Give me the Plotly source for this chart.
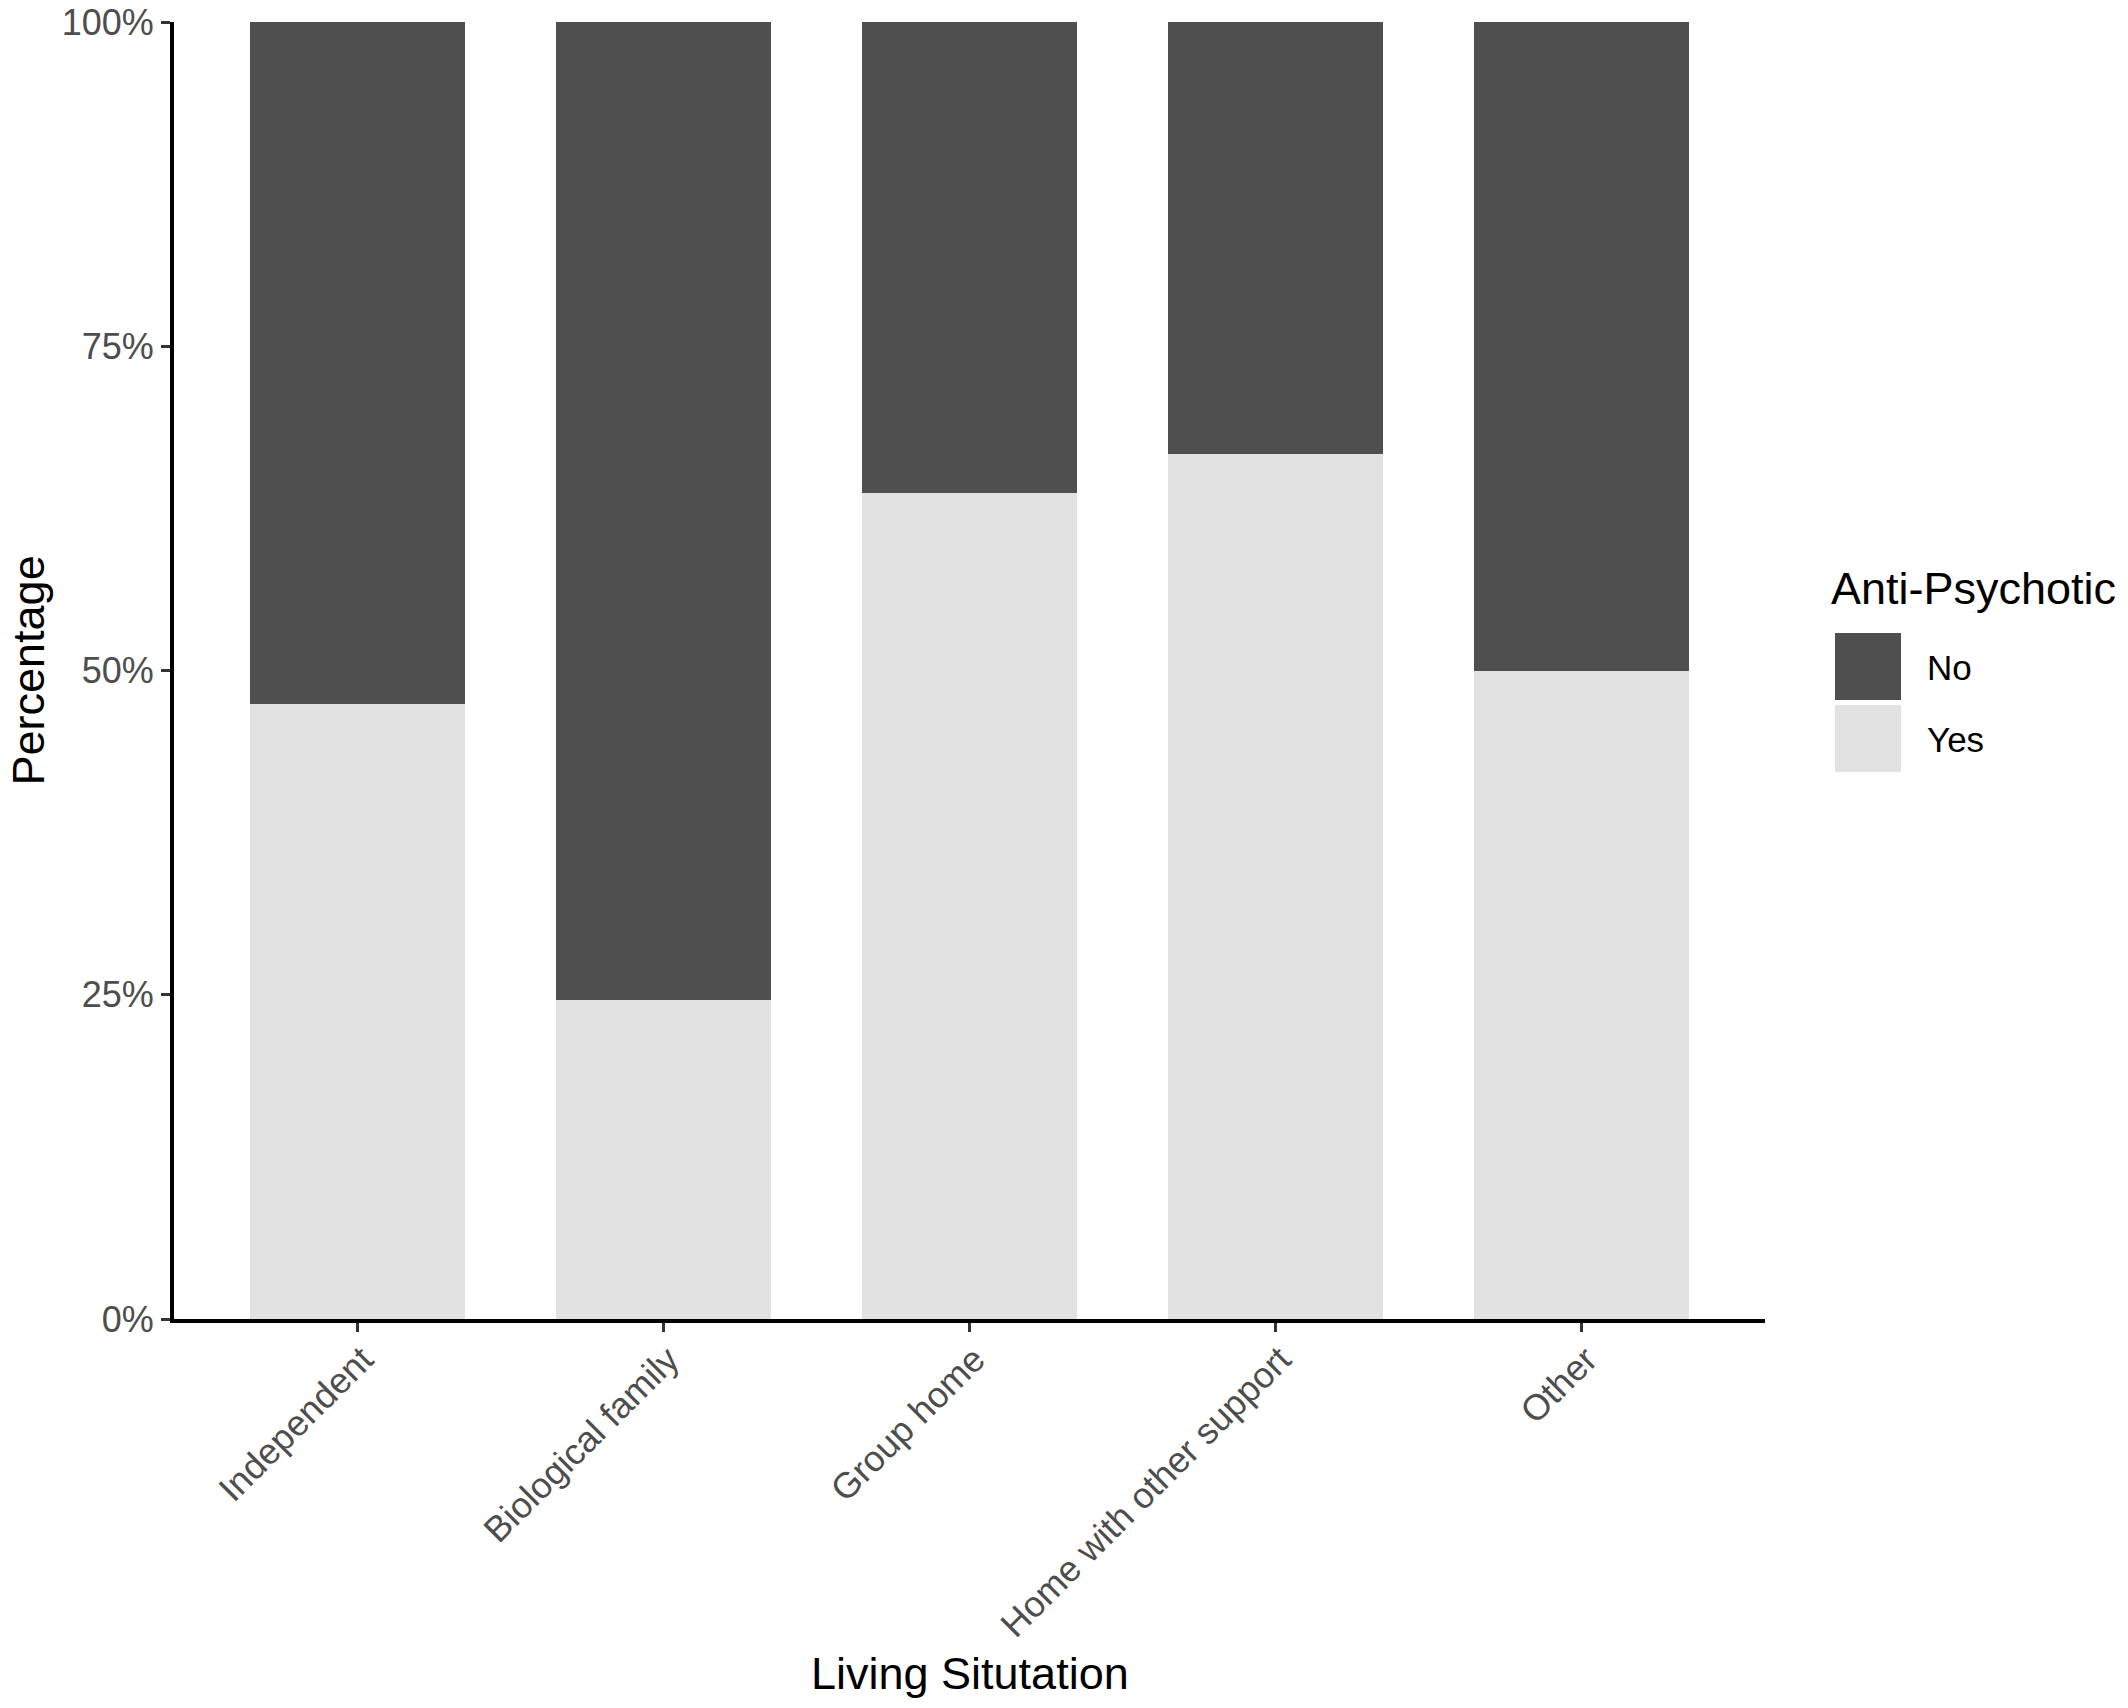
import plotly.graph_objects as go

categories = ["Independent", "Biological family", "Group home", "Home with other support", "Other"]
yes_share = [0.474, 0.246, 0.637, 0.667, 0.500]
no_share = [1 - v for v in yes_share]
y_ticks = [0, 0.25, 0.5, 0.75, 1.0]
y_tick_labels = ["0%", "25%", "50%", "75%", "100%"]
legend_title = "Anti-Psychotic"
legend_labels = ["No", "Yes"]

COL_NO = "#4F4F4F"
COL_YES = "#E2E2E2"
FONT = "Liberation Sans, Arial, sans-serif"

W, H = 2128, 1708          # page (viewport) size
L, R, T, B = 174, 1765, 22, 1319   # plot area in page pixels

def px(x):
    return (x - L) / (R - L)

def py(y):
    return (B - y) / (B - T)

fig = go.Figure()
fig.add_trace(go.Bar(x=categories, y=yes_share, name="Yes", marker=dict(color=COL_YES, line=dict(width=0)),
                     width=0.7, showlegend=False))
fig.add_trace(go.Bar(x=categories, y=no_share, name="No", marker=dict(color=COL_NO, line=dict(width=0)),
                     width=0.7, showlegend=False))

fig.update_layout(
    barmode="stack",
    width=W, height=H,
    margin=dict(l=L, r=W - R, t=T, b=H - B, pad=0, autoexpand=False),
    paper_bgcolor="white", plot_bgcolor="white",
    font=dict(family=FONT, size=36, color="#4D4D4D"),
    xaxis=dict(
        type="category", range=[-0.6, 4.6], automargin=False,
        showline=True, linecolor="black", linewidth=4,
        ticks="outside", ticklen=9, tickwidth=3, tickcolor="#333333",
        tickangle=-45, tickfont=dict(size=36, color="#4D4D4D"),
        ticklabelstandoff=-8, ticklabelshift=5, ticklabeloverflow="allow",
        showgrid=False, zeroline=False,
    ),
    yaxis=dict(
        range=[0, 1], tickvals=y_ticks, ticktext=y_tick_labels, automargin=False,
        showline=True, linecolor="black", linewidth=4,
        ticks="outside", ticklen=9, tickwidth=3, tickcolor="#333333",
        tickfont=dict(size=36, color="#4D4D4D"), ticklabeloverflow="allow",
        showgrid=False, zeroline=False,
    ),
)

annotations = [
    dict(text="Living Situtation", x=0.5, y=py(1673), xref="paper", yref="paper",
         showarrow=False, xanchor="center", yanchor="middle",
         font=dict(size=45, color="black", family=FONT)),
    dict(text="Percentage", x=px(28), y=0.5, xref="paper", yref="paper", textangle=-90,
         showarrow=False, xanchor="center", yanchor="middle",
         font=dict(size=45, color="black", family=FONT)),
    dict(text=legend_title, x=px(1829), y=py(588), xref="paper", yref="paper",
         showarrow=False, xanchor="left", yanchor="middle",
         font=dict(size=45, color="black", family=FONT)),
]
shapes = []
key_tops = [633, 705]
key_cols = [COL_NO, COL_YES]
for lab, top, col in zip(legend_labels, key_tops, key_cols):
    shapes.append(dict(type="rect", xref="paper", yref="paper",
                       x0=px(1835), x1=px(1901), y0=py(top + 67), y1=py(top),
                       fillcolor=col, line=dict(width=0)))
    annotations.append(dict(text=lab, x=px(1925), y=py(top + 34), xref="paper", yref="paper",
                            showarrow=False, xanchor="left", yanchor="middle",
                            font=dict(size=35, color="black", family=FONT)))

fig.update_layout(annotations=annotations, shapes=shapes)
fig.write_html("out.html", config={"displayModeBar": False},
               post_script="document.body.style.margin='0';")
